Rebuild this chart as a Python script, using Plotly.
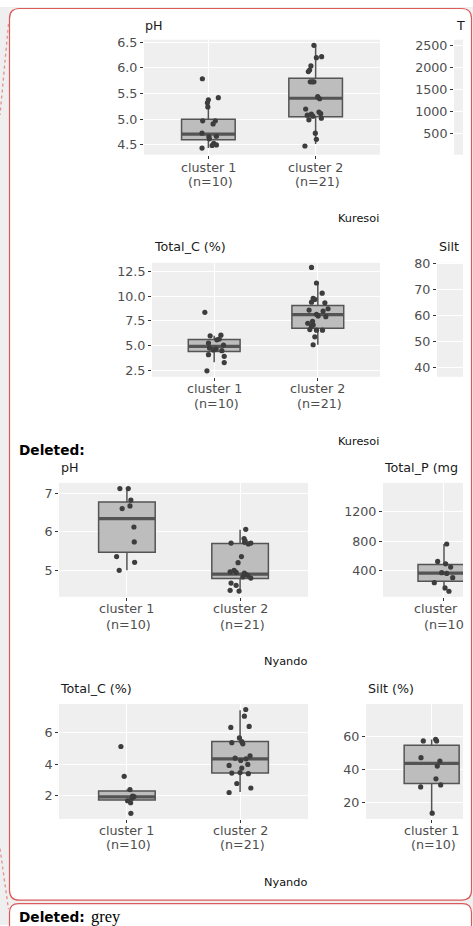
import plotly.graph_objects as go

W, H = 473, 926

# ---------------- data ----------------
cluster_pos = [1, 2]
cluster_names = ["cluster 1", "cluster 2"]
cluster_n = ["(n=10)", "(n=21)"]

# Kuresoi - pH
kur_ph_c1 = [5.79, 5.38, 5.32, 5.24, 5.42, 4.97, 4.97, 4.91, 4.73, 4.66, 4.62, 4.67, 4.53, 4.50, 4.49, 4.44]
kur_ph_c1_jit = [-0.056, 0.0, -0.009, -0.005, 0.093, -0.053, 0.065, 0.044, -0.059, 0.005, 0.009, 0.075, 0.05, 0.075, 0.035, -0.059]
kur_ph_c2 = [6.44, 6.20, 6.22, 6.04, 5.93, 5.96, 5.73, 5.73, 5.73, 5.44, 5.40, 5.20, 5.14, 5.11, 5.10, 5.08, 5.06, 5.02, 4.99, 4.73, 4.61, 4.48]
kur_ph_c2_jit = [-0.016, 0.007, 0.056, -0.044, -0.068, -0.056, -0.05, -0.031, -0.016, 0.019, 0.037, -0.093, 0.031, 0.047, -0.04, -0.078, -0.025, 0.053, -0.063, -0.003, 0.007, -0.1]
kur_ph_q1 = [4.60, 5.05]
kur_ph_med = [4.71, 5.41]
kur_ph_q3 = [5.00, 5.80]
kur_ph_lo = [4.44, 4.52]
kur_ph_hi = [5.38, 6.43]
kur_ph_ticks = [4.5, 5.0, 5.5, 6.0, 6.5]
kur_ph_ticktext = ["4.5", "5.0", "5.5", "6.0", "6.5"]

# Kuresoi - Total_P (cut off at the page edge)
kur_p_ticks = [500, 1000, 1500, 2000, 2500]
kur_p_ticktext = ["500", "1000", "1500", "2000", "2500"]

# Kuresoi - Total_C
kur_c_c1 = [8.37, 6.0, 6.07, 5.6, 5.67, 5.27, 5.07, 4.77, 4.57, 4.5, 4.67, 4.1, 3.93, 3.3, 2.47]
kur_c_c1_jit = [-0.09, -0.039, 0.065, 0.026, 0.048, -0.055, 0.09, -0.045, -0.007, 0.074, 0.019, -0.055, 0.097, 0.097, -0.07]
kur_c_c2 = [12.9, 11.33, 10.3, 9.77, 9.67, 9.4, 9.33, 8.6, 8.5, 8.73, 8.17, 8.0, 7.93, 7.47, 7.27, 7.0, 7.1, 6.63, 6.57, 6.57, 5.9, 5.1]
kur_c_c2_jit = [-0.061, -0.013, 0.042, -0.045, -0.029, -0.061, 0.068, -0.084, 0.051, 0.099, -0.013, 0.003, 0.077, -0.051, -0.097, -0.061, -0.045, -0.077, -0.013, 0.045, -0.029, -0.045]
kur_c_q1 = [4.43, 6.77]
kur_c_med = [4.93, 8.13]
kur_c_q3 = [5.63, 9.07]
kur_c_lo = [3.33, 5.1]
kur_c_hi = [6.0, 11.33]
kur_c_ticks = [2.5, 5.0, 7.5, 10.0, 12.5]
kur_c_ticktext = ["2.5", "5.0", "7.5", "10.0", "12.5"]

# Kuresoi - Silt (cut off at the page edge)
kur_silt_ticks = [40, 50, 60, 70, 80]
kur_silt_ticktext = ["40", "50", "60", "70", "80"]

# Nyando - pH
nya_ph_c1 = [7.13, 7.13, 6.83, 6.68, 6.61, 6.13, 5.74, 5.36, 5.21, 5.0]
nya_ph_c1_jit = [-0.062, 0.012, 0.035, 0.027, -0.042, 0.062, 0.065, -0.091, 0.068, -0.068]
nya_ph_c2 = [6.07, 5.83, 5.77, 5.73, 5.71, 5.69, 5.71, 5.36, 5.20, 4.96, 5.0, 4.95, 4.93, 4.89, 4.87, 4.80, 4.83, 4.67, 4.61, 4.48, 4.46]
nya_ph_c2_jit = [0.05, 0.035, 0.044, 0.04, -0.08, 0.073, 0.095, 0.012, -0.018, -0.088, -0.053, -0.035, 0.038, 0.053, 0.068, 0.095, 0.024, -0.08, -0.035, -0.088, -0.009]
nya_ph_q1 = [5.47, 4.79]
nya_ph_med = [6.35, 4.90]
nya_ph_q3 = [6.78, 5.70]
nya_ph_lo = [5.0, 4.42]
nya_ph_hi = [7.13, 6.06]
nya_ph_ticks = [5, 6, 7]
nya_ph_ticktext = ["5", "6", "7"]

# Nyando - Total_P (only cluster 1 visible)
nya_p_c1 = [761, 522, 490, 445, 368, 359, 300, 232, 160, 115]
nya_p_c1_jit = [0.026, -0.061, 0.016, 0.064, -0.022, 0.026, 0.084, -0.093, 0.01, 0.048]
nya_p_q1 = [251]
nya_p_med = [363]
nya_p_q3 = [481]
nya_p_lo = [129]
nya_p_hi = [761]
nya_p_ticks = [400, 800, 1200]
nya_p_ticktext = ["400", "800", "1200"]

# Nyando - Total_C
nya_c_c1 = [5.13, 3.21, 2.36, 1.94, 1.9, 1.8, 1.64, 1.51, 0.83]
nya_c_c1_jit = [-0.053, -0.024, 0.027, 0.05, 0.062, 0.044, 0.006, 0.033, 0.035]
nya_c_c2 = [7.51, 7.08, 6.42, 6.36, 5.68, 5.44, 5.30, 5.38, 4.38, 4.53, 4.34, 4.23, 3.98, 3.91, 3.74, 3.42, 3.45, 3.38, 2.75, 2.46, 2.17]
nya_c_c2_jit = [0.05, 0.038, 0.08, -0.082, -0.006, 0.015, 0.024, -0.073, -0.044, 0.088, 0.053, 0.006, 0.068, -0.097, 0.015, -0.073, 0.0, 0.073, -0.029, 0.095, -0.097]
nya_c_q1 = [1.68, 3.42]
nya_c_med = [1.89, 4.34]
nya_c_q3 = [2.27, 5.45]
nya_c_lo = [1.6, 2.21]
nya_c_hi = [2.36, 7.47]
nya_c_ticks = [2, 4, 6]
nya_c_ticktext = ["2", "4", "6"]

# Nyando - Silt (only cluster 1 visible)
nya_silt_c1 = [57.4, 58.4, 57.4, 47.2, 45.1, 42.1, 34.3, 29.4, 30.6, 13.4]
nya_silt_c1_jit = [-0.076, 0.036, 0.045, -0.097, 0.075, 0.051, 0.039, -0.1, 0.082, 0.005]
nya_silt_q1 = [31.5]
nya_silt_med = [43.7]
nya_silt_q3 = [54.8]
nya_silt_lo = [13.4]
nya_silt_hi = [58.2]
nya_silt_ticks = [20, 40, 60]
nya_silt_ticktext = ["20", "40", "60"]

# text visible where the page edge cuts the right-hand panels
cut_title_p_top = "T"
cut_title_silt_top = "Silt"
cut_title_p_bottom = "Total_P (mg"
cut_label_line1 = "cluster"
cut_label_line2 = "(n=10"

# ---------------- styling / layout ----------------
FONT = "DejaVu Sans"
FS = 12.7
BOX_FILL = "#bdbdbd"
BOX_LINE = "#545454"
PT_COL = "#3d3d3d"
PANEL_BG = "#efefef"
PAGE_GREY = "#efefef"
RED = "#dc5a5a"


def fx(px):
    return px / W


def fy(py):
    return 1 - py / H


panels = [
    dict(title="pH", title_xy=(144.3, 19), dom=(144, 380, 33, 149), xr=(0.4, 2.6), yr=(4.31, 6.55),
         yt=kur_ph_ticks, ytt=kur_ph_ticktext, lab_y=(162, 176), labels="full",
         groups=[(kur_ph_c1, kur_ph_c1_jit), (kur_ph_c2, kur_ph_c2_jit)],
         stats=(kur_ph_q1, kur_ph_med, kur_ph_q3, kur_ph_lo, kur_ph_hi)),
    dict(title=cut_title_p_top, title_xy=(455, 19), dom=(454, 463, 33, 149), xr=(0.4, 0.49), yr=(30, 2634),
         yt=kur_p_ticks, ytt=kur_p_ticktext, lab_y=None, labels=None, groups=[], stats=None),
    dict(title="Total_C (%)", title_xy=(152.7, 241.7), dom=(152, 380, 258, 373), xr=(0.4, 2.6), yr=(1.87, 13.37),
         yt=kur_c_ticks, ytt=kur_c_ticktext, lab_y=(385, 400), labels="full",
         groups=[(kur_c_c1, kur_c_c1_jit), (kur_c_c2, kur_c_c2_jit)],
         stats=(kur_c_q1, kur_c_med, kur_c_q3, kur_c_lo, kur_c_hi)),
    dict(title=cut_title_silt_top, title_xy=(438, 241.7), dom=(437, 463, 258, 373), xr=(0.4, 0.65), yr=(36.3, 80.4),
         yt=kur_silt_ticks, ytt=kur_silt_ticktext, lab_y=None, labels=None, groups=[], stats=None),
    dict(title="pH", title_xy=(60, 465), dom=(59, 308, 480, 595), xr=(0.4, 2.6), yr=(4.31, 7.28),
         yt=nya_ph_ticks, ytt=nya_ph_ticktext, lab_y=(607, 623), labels="full",
         groups=[(nya_ph_c1, nya_ph_c1_jit), (nya_ph_c2, nya_ph_c2_jit)],
         stats=(nya_ph_q1, nya_ph_med, nya_ph_q3, nya_ph_lo, nya_ph_hi)),
    dict(title=cut_title_p_bottom, title_xy=(383, 465), dom=(383, 463, 480, 595), xr=(0.413, 1.183), yr=(38, 1597),
         yt=nya_p_ticks, ytt=nya_p_ticktext, lab_y=(607, 623), labels="cut",
         groups=[(nya_p_c1, nya_p_c1_jit)],
         stats=(nya_p_q1, nya_p_med, nya_p_q3, nya_p_lo, nya_p_hi)),
    dict(title="Total_C (%)", title_xy=(59, 687.3), dom=(59, 308, 703, 819), xr=(0.4, 2.6), yr=(0.47, 7.87),
         yt=nya_c_ticks, ytt=nya_c_ticktext, lab_y=(831, 845), labels="full",
         groups=[(nya_c_c1, nya_c_c1_jit), (nya_c_c2, nya_c_c2_jit)],
         stats=(nya_c_q1, nya_c_med, nya_c_q3, nya_c_lo, nya_c_hi)),
    dict(title="Silt (%)", title_xy=(366.7, 687.3), dom=(366, 463, 703, 819), xr=(0.403, 1.285), yr=(9.9, 79.9),
         yt=nya_silt_ticks, ytt=nya_silt_ticktext, lab_y=(831, 845), labels="one",
         groups=[(nya_silt_c1, nya_silt_c1_jit)],
         stats=(nya_silt_q1, nya_silt_med, nya_silt_q3, nya_silt_lo, nya_silt_hi)),
]

captions = [("Kuresoi", 380, 213), ("Kuresoi", 380, 438), ("Nyando", 308, 660), ("Nyando", 308, 883)]

fig = go.Figure()
layout = dict(
    width=W, height=H, margin=dict(l=0, r=0, t=0, b=0), autosize=False,
    paper_bgcolor="white", plot_bgcolor=PANEL_BG, showlegend=False,
    font=dict(family=FONT, size=FS, color="#4d4d4d"),
    boxmode="overlay",
)
annotations = []

for i, p in enumerate(panels, start=1):
    xa = "x" if i == 1 else f"x{i}"
    ya = "y" if i == 1 else f"y{i}"
    xk = "xaxis" if i == 1 else f"xaxis{i}"
    yk = "yaxis" if i == 1 else f"yaxis{i}"
    x0, x1, y0, y1 = p["dom"]
    layout[xk] = dict(domain=[fx(x0), fx(x1)], range=list(p["xr"]), anchor=ya,
                      tickvals=cluster_pos, showticklabels=False, ticks="outside",
                      ticklen=3, tickwidth=1, tickcolor="#333333",
                      showgrid=True, gridcolor="white", gridwidth=1.4,
                      zeroline=False, showline=False, fixedrange=True)
    layout[yk] = dict(domain=[fy(y1), fy(y0)], range=list(p["yr"]), anchor=xa,
                      tickvals=p["yt"], ticktext=p["ytt"], ticks="outside",
                      ticklen=3, tickwidth=1, tickcolor="#333333",
                      tickfont=dict(family=FONT, size=FS, color="#4d4d4d"),
                      showgrid=True, gridcolor="white", gridwidth=1.4,
                      zeroline=False, showline=False, fixedrange=True)

    if not p["groups"]:
        fig.add_trace(go.Scatter(x=[None], y=[None], xaxis=xa, yaxis=ya, mode="markers",
                                 showlegend=False, hoverinfo="skip"))
    else:
        q1s, meds, q3s, los, his = p["stats"]
        for k, (vals, jit) in enumerate(p["groups"]):
            pos = cluster_pos[k]
            fig.add_trace(go.Box(x=[pos], q1=[q1s[k]], median=[meds[k]], q3=[q3s[k]],
                                 lowerfence=[los[k]], upperfence=[his[k]], width=0.5,
                                 fillcolor=BOX_FILL, line=dict(color=BOX_LINE, width=1.5),
                                 whiskerwidth=0, boxpoints=False, xaxis=xa, yaxis=ya,
                                 showlegend=False, hoverinfo="skip"))
            fig.add_trace(go.Scatter(x=[pos - 0.25, pos + 0.25], y=[meds[k], meds[k]], mode="lines",
                                     line=dict(color=BOX_LINE, width=3.2), xaxis=xa, yaxis=ya,
                                     showlegend=False, hoverinfo="skip"))
            fig.add_trace(go.Scatter(x=[pos + j for j in jit], y=vals, mode="markers",
                                     marker=dict(size=5.2, color=PT_COL), xaxis=xa, yaxis=ya,
                                     showlegend=False, hoverinfo="skip"))

    # panel title
    tx, ty = p["title_xy"]
    annotations.append(dict(text=p["title"], xref="paper", yref="paper", x=fx(tx), y=fy(ty),
                            xanchor="left", yanchor="middle", showarrow=False, borderpad=0,
                            font=dict(family=FONT, size=FS, color="#1a1a1a")))

    # x tick labels
    if p["labels"] in ("full", "one"):
        n_show = 2 if p["labels"] == "full" else 1
        for k in range(n_show):
            for line_txt, ly in ((cluster_names[k], p["lab_y"][0]), ("\u00a0" + cluster_n[k], p["lab_y"][1])):
                annotations.append(dict(text=line_txt, xref=xa, yref="paper", x=cluster_pos[k], y=fy(ly),
                                        xanchor="center", yanchor="middle", showarrow=False, borderpad=0,
                                        font=dict(family=FONT, size=FS, color="#4d4d4d")))
    elif p["labels"] == "cut":
        for line_txt, ly, shift in ((cut_label_line1, p["lab_y"][0], -31), (cut_label_line2, p["lab_y"][1], -21)):
            annotations.append(dict(text=line_txt, xref=xa, yref="paper", x=cluster_pos[0], y=fy(ly),
                                    xanchor="left", xshift=shift, yanchor="middle", showarrow=False,
                                    borderpad=0, font=dict(family=FONT, size=FS, color="#4d4d4d")))

for txt, rx, cy in captions:
    annotations.append(dict(text=txt, xref="paper", yref="paper", x=fx(rx), y=fy(cy),
                            xanchor="right", yanchor="middle", showarrow=False, borderpad=0,
                            font=dict(family=FONT, size=11.3, color="#111111")))

# track-change texts
annotations.append(dict(text="<b>Deleted:</b>", xref="paper", yref="paper", x=fx(18), y=fy(447),
                        xanchor="left", yanchor="middle", showarrow=False, borderpad=0,
                        font=dict(family=FONT, size=13.7, color="#000000")))
annotations.append(dict(text="<b>Deleted:</b>", xref="paper", yref="paper", x=fx(18), y=fy(918),
                        xanchor="left", yanchor="middle", showarrow=False, borderpad=0,
                        font=dict(family=FONT, size=13.7, color="#000000")))
annotations.append(dict(text="grey", xref="paper", yref="paper", x=fx(90), y=fy(917),
                        xanchor="left", yanchor="middle", showarrow=False, borderpad=0,
                        font=dict(family="Liberation Serif", size=16.5, color="#000000")))


def rr(x0, y0, x1, y1, r):
    pts = [("M", [(x0 + r, y0)]), ("L", [(x1 - r, y0)]), ("Q", [(x1, y0), (x1, y0 + r)]),
           ("L", [(x1, y1 - r)]), ("Q", [(x1, y1), (x1 - r, y1)]), ("L", [(x0 + r, y1)]),
           ("Q", [(x0, y1), (x0, y1 - r)]), ("L", [(x0, y0 + r)]), ("Q", [(x0, y0), (x0 + r, y0)])]
    s = ""
    for cmd, cs in pts:
        s += cmd + " " + " ".join(f"{fx(a):.5f},{fy(b):.5f}" for a, b in cs) + " "
    return s + "Z"


box1 = rr(9.5, 1.5, 471.5, 901, 10)
box2 = rr(9.5, 904.5, 471.5, 960, 9)

# grey page strips around the white comment boxes
grey_rects = [(0, 0, 9.5, H), (471.5, 0, W, H), (0, 901, W, 904.5), (0, 0, W, 1.5)]
shapes = []
for gx0, gy0, gx1, gy1 in grey_rects:
    shapes.append(dict(type="rect", xref="paper", yref="paper", x0=fx(gx0), x1=fx(gx1), y0=fy(gy1), y1=fy(gy0),
                       fillcolor=PAGE_GREY, line=dict(width=0), layer="below"))
# grey corners outside the rounded box edges
for (cx, cy, sx, sy) in [(9.5, 1.5, 1, 1), (471.5, 1.5, -1, 1), (9.5, 901, 1, -1), (471.5, 901, -1, -1),
                         (9.5, 904.5, 1, 1), (471.5, 904.5, -1, 1)]:
    r = 10
    pth = (f"M {fx(cx):.5f},{fy(cy):.5f} L {fx(cx + sx * r):.5f},{fy(cy):.5f} "
           f"Q {fx(cx):.5f},{fy(cy):.5f} {fx(cx):.5f},{fy(cy + sy * r):.5f} Z")
    shapes.append(dict(type="path", xref="paper", yref="paper", path=pth,
                       fillcolor=PAGE_GREY, line=dict(width=0), layer="below"))

shapes += [
    dict(type="path", xref="paper", yref="paper", path=box1, line=dict(color=RED, width=1.2), layer="above"),
    dict(type="path", xref="paper", yref="paper", path=box2, line=dict(color=RED, width=1.2), layer="above"),
    dict(type="line", xref="paper", yref="paper", x0=fx(8.5), y0=fy(17), x1=fx(0), y1=fy(109),
         line=dict(color="#e58f8f", width=1.3, dash="dot"), layer="above"),
    dict(type="line", xref="paper", yref="paper", x0=fx(0), y0=fy(849), x1=fx(8.5), y1=fy(910),
         line=dict(color="#e58f8f", width=1.3, dash="dot"), layer="above"),
]

layout["annotations"] = annotations
layout["shapes"] = shapes
fig.update_layout(**layout)

fig.write_html("out.html", config={"displayModeBar": False})
